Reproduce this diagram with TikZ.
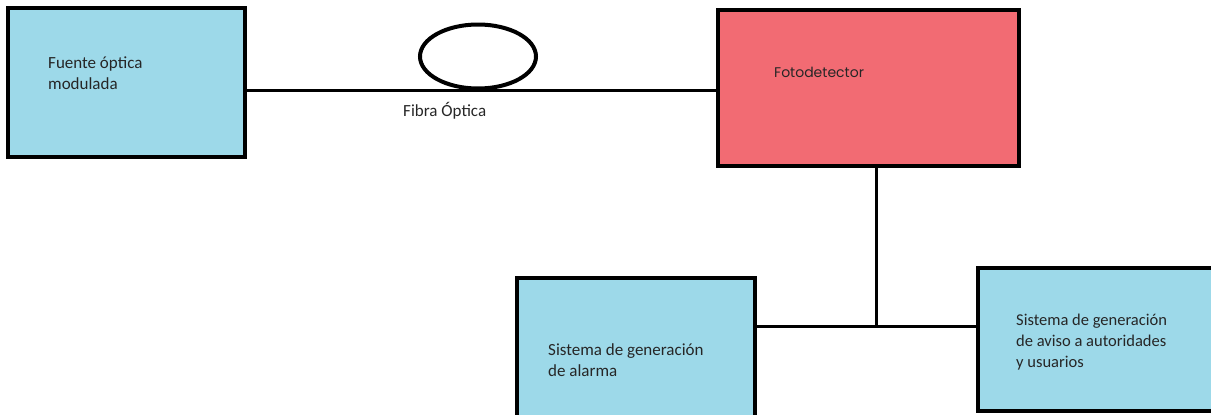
\documentclass[tikz,border=0pt]{standalone}
\usepackage{fontspec}
\setmainfont{Carlito}
\newfontfamily\fotofont{Poppins}
\usetikzlibrary{shapes.geometric}
\definecolor{boxblue}{HTML}{9DD9E9}
\definecolor{boxred}{HTML}{F26B73}
\definecolor{txt}{HTML}{262626}
\tikzset{
  blockbox/.style={draw=black, line width=4pt, inner sep=0pt},
  wire/.style={draw=black, line width=3pt},
  boxtext/.style={anchor=west, align=left, inner sep=0pt, text=txt,
    font=\fontsize{17}{21}\selectfont},
}
\begin{document}
\begin{tikzpicture}[x=1pt,y=-1pt]
\useasboundingbox (0,0) rectangle (1211,415);
\clip (0,0) rectangle (1211,415);
% boxes
\node[blockbox, fill=boxblue, minimum width=237pt, minimum height=149pt] (src) at (126.5,82.5) {};
\node[blockbox, fill=boxred, minimum width=301pt, minimum height=156pt] (det) at (868.5,88) {};
\node[blockbox, fill=boxblue, minimum width=238pt, minimum height=160pt] (alarm) at (636,358) {};
\node[blockbox, fill=boxblue, minimum width=260pt, minimum height=143pt] (aviso) at (1108,339.5) {};
% fiber loop
\node[draw=black, line width=4pt, ellipse, minimum width=116pt, minimum height=64pt, inner sep=0pt] (loop) at (478,56.5) {};
% texts
\node[boxtext] (srct) at (48,73) {Fuente óptica\\modulada};
\node[anchor=west, inner sep=0pt, text=txt, font=\fotofont\fontsize{14}{17}\selectfont] (dett) at (774,72) {Fotodetector};
\node[anchor=west, inner sep=0pt, text=txt, font=\fontsize{17}{20}\selectfont] (fibt) at (403,111) {Fibra Óptica};
\node[boxtext] (alarmt) at (548,360) {Sistema de generación\\de alarma};
\node[boxtext, font=\fontsize{16.5}{21}\selectfont] (avisot) at (1016,342) {Sistema de generación\\de aviso a autoridades\\y usuarios};
% connectors
\coordinate (j) at (876,326);
\draw[wire] (src.east |- loop.south) -- (det.west |- loop.south);
\draw[wire] (det.south -| j) -- (j);
\draw[wire] (alarm.east |- j) -- (aviso.west |- j);
\end{tikzpicture}
\end{document}
